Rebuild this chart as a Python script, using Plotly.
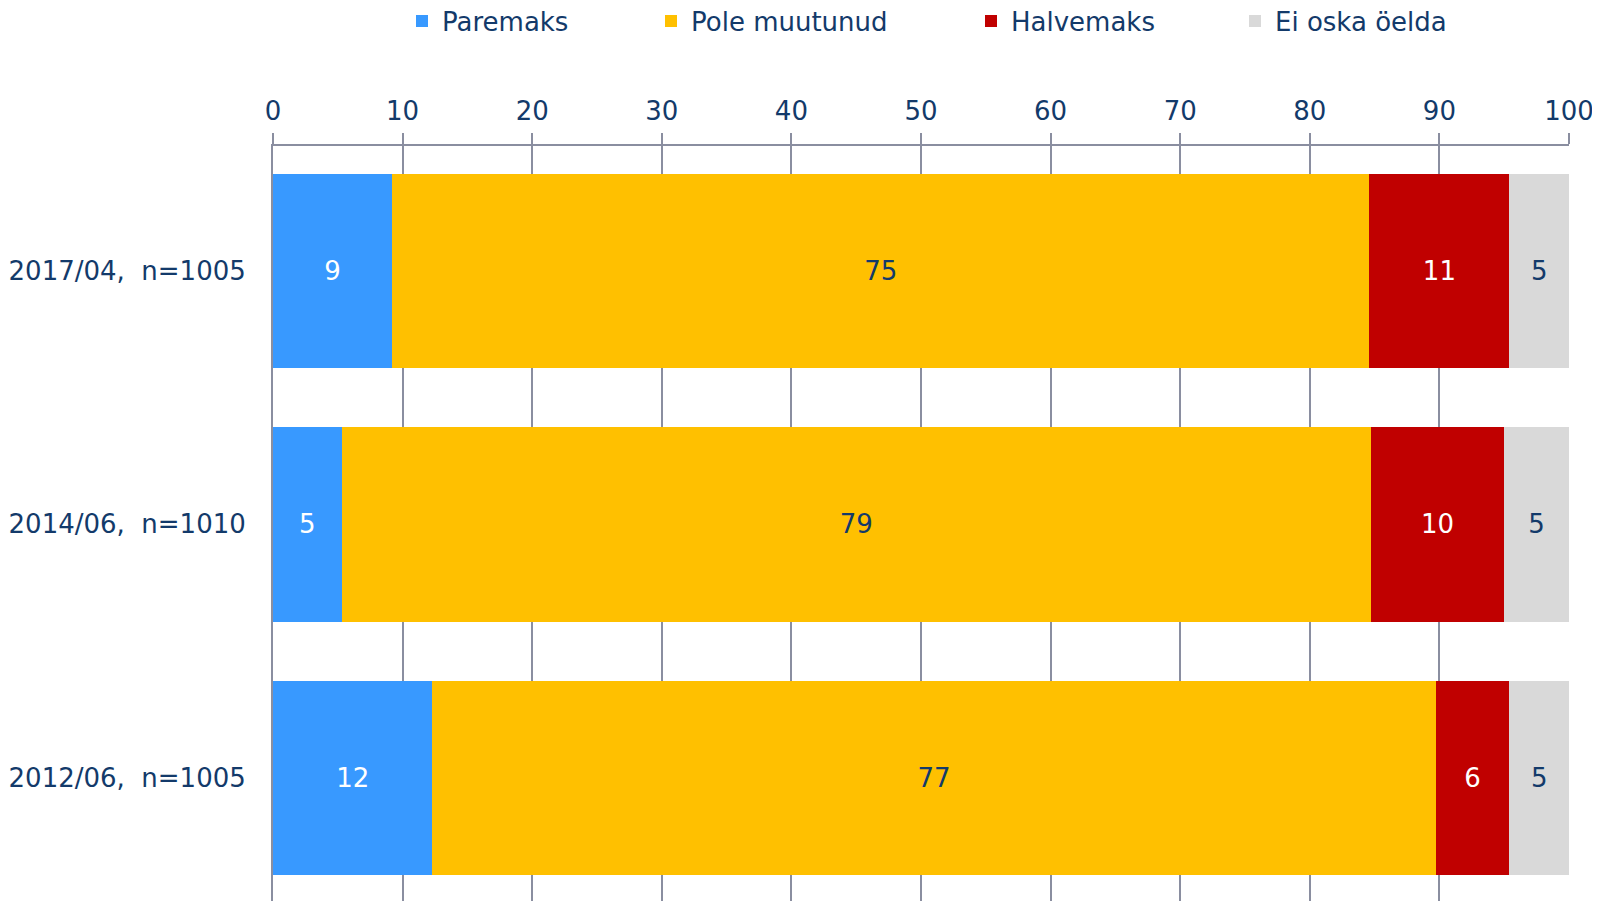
import plotly.graph_objects as go

# Data
categories = ["2012/06,\u00a0\u00a0n=1005", "2014/06,\u00a0\u00a0n=1010", "2017/04,\u00a0\u00a0n=1005"]
series_names = ["Paremaks", "Pole muutunud", "Halvemaks", "Ei oska öelda"]
paremaks = [12.3, 5.3, 9.2]
pole_muutunud = [77.4, 79.4, 75.4]
halvemaks = [5.7, 10.3, 10.8]
ei_oska = [4.6, 5.0, 4.6]
tick_values = [0, 10, 20, 30, 40, 50, 60, 70, 80, 90, 100]

values = [paremaks, pole_muutunud, halvemaks, ei_oska]
colors = ["#3899FF", "#FFC000", "#C00000", "#D9D9D9"]
text_colors = ["#FFFFFF", "#133A6A", "#FFFFFF", "#133A6A"]
legend_ids = ["legend", "legend2", "legend3", "legend4"]
legend_x = [394, 643, 963, 1227]

W, H = 1592, 893
NAVY = "#133A6A"
GRID = "#8A8EA0"
FONT = "DejaVu Sans"

fig = go.Figure()
for name, vals, col, tcol, lid in zip(series_names, values, colors, text_colors, legend_ids):
    fig.add_trace(go.Bar(
        y=categories, x=vals, name=name, orientation="h",
        marker=dict(color=col, line=dict(width=0)),
        text=vals, texttemplate="%{x:.0f}", textposition="inside",
        insidetextanchor="middle", textangle=0,
        textfont=dict(family=FONT, size=26, color=tcol),
        hoverinfo="skip", legend=lid,
    ))

layout_legends = {}
for lid, lx in zip(legend_ids, legend_x):
    layout_legends[lid] = dict(
        orientation="h", xref="container", yref="container",
        x=lx / W, y=1 - 13 / H, xanchor="left", yanchor="middle",
        bgcolor="rgba(0,0,0,0)", font=dict(family=FONT, size=26, color=NAVY),
        borderwidth=0,
    )

fig.update_layout(
    width=W, height=H,
    barmode="stack", bargap=0.233,
    plot_bgcolor="white", paper_bgcolor="white",
    margin=dict(l=265, r=31, t=138, b=0, pad=0),
    font=dict(family=FONT, size=26, color=NAVY),
    showlegend=True,
    **layout_legends,
)
fig.update_xaxes(
    side="top", range=[0, 100], tickvals=tick_values,
    showgrid=True, gridcolor=GRID, gridwidth=2,
    showline=True, linecolor=GRID, linewidth=2,
    ticks="outside", ticklen=11, tickwidth=2, tickcolor=GRID,
    ticklabelstandoff=3,
    tickfont=dict(family=FONT, size=26, color=NAVY),
    zeroline=False, fixedrange=True,
)
fig.update_yaxes(
    categoryorder="array", categoryarray=categories,
    range=[-0.486, 2.493],
    showgrid=False, showline=True, linecolor=GRID, linewidth=2,
    ticks="", ticklabelstandoff=20,
    tickfont=dict(family=FONT, size=26, color=NAVY),
    zeroline=False, fixedrange=True,
)

fig.write_html("out.html")
